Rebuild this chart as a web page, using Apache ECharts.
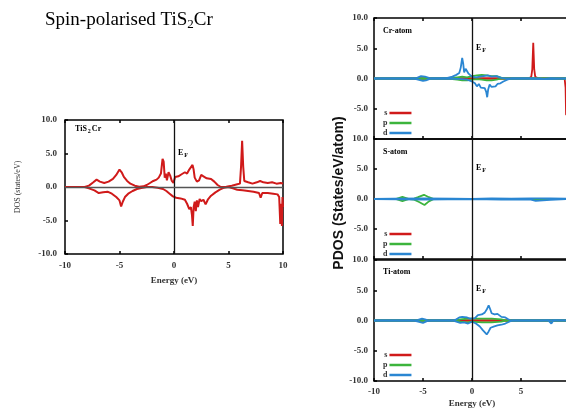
<!DOCTYPE html>
<html><head><meta charset="utf-8">
<script src="https://cdn.jsdelivr.net/npm/echarts@6/dist/echarts.min.js"></script>
<style>html,body{margin:0;padding:0;background:#fff}#c{width:566px;height:413px}</style>
</head><body><div id="c"></div>
<script>
// ---------- DATA ----------
const energyTicks = [-10, -5, 0, 5, 10];
const dosTicks = [-10, -5, 0, 5, 10];
const legendItems = ['s', 'p', 'd'];
const panelNames = ['Cr-atom', 'S-atom', 'Ti-atom'];

// Total DOS of TiS2Cr (spin up / spin down)
const totUp = [[-10,0],[-8.2,0],[-7.8,0.2],[-7.4,0.7],[-7.1,1.1],[-6.8,0.8],[-6.4,0.6],[-6.0,0.8],[-5.6,1.2],[-5.3,1.8],[-5.0,2.6],[-4.8,2.2],[-4.6,1.5],[-4.3,0.9],[-4.0,0.5],[-3.6,0.2],[-3.2,0.05],[-2.8,0.1],[-2.5,0.3],[-2.2,0.6],[-1.9,0.9],[-1.6,1.1],[-1.4,1.4],[-1.2,2.0],[-1.05,4.2],[-0.95,3.8],[-0.85,1.4],[-0.75,2.0],[-0.65,1.0],[-0.5,2.2],[-0.35,1.7],[-0.2,0.9],[-0.05,0.6],[0.1,1.5],[0.4,1.6],[0.7,1.9],[1.0,2.2],[1.2,2.0],[1.4,2.6],[1.55,2.4],[1.7,3.3],[1.8,2.6],[1.9,1.4],[2.1,0.8],[2.3,1.0],[2.5,1.8],[2.7,1.6],[3.0,1.3],[3.4,1.2],[3.7,0.8],[4.0,0.3],[4.3,0.0],[4.8,0.05],[5.3,0.2],[5.8,0.4],[6.05,0.5],[6.15,3.0],[6.25,6.9],[6.35,3.0],[6.45,0.9],[6.8,0.7],[7.2,0.5],[7.6,0.7],[7.9,0.9],[8.2,0.7],[8.6,0.6],[9.0,0.7],[9.4,0.5],[9.8,0.6],[10,0.5]];
const totDn = [[-10,0],[-8.2,0],[-7.8,-0.2],[-7.3,-0.5],[-6.9,-0.9],[-6.5,-0.8],[-6.1,-0.7],[-5.7,-1.0],[-5.3,-1.5],[-5.0,-2.0],[-4.85,-2.9],[-4.7,-2.2],[-4.5,-1.5],[-4.2,-1.0],[-3.8,-0.6],[-3.4,-0.3],[-3.0,-0.15],[-2.5,0],[-2,0],[-1.5,-0.1],[-1.0,-0.3],[-0.7,-0.6],[-0.4,-1.0],[-0.1,-1.4],[0.2,-1.6],[0.6,-1.7],[1.0,-1.9],[1.2,-2.5],[1.4,-3.3],[1.55,-3.0],[1.65,-4.2],[1.72,-5.8],[1.8,-3.0],[1.9,-2.2],[2.0,-3.6],[2.1,-2.0],[2.2,-3.0],[2.35,-1.8],[2.5,-2.1],[2.7,-1.9],[2.9,-2.6],[3.1,-1.9],[3.4,-1.3],[3.8,-0.8],[4.2,-0.4],[4.6,-0.1],[5.0,0],[5.4,-0.2],[5.8,-0.4],[6.3,-0.5],[6.8,-0.6],[7.3,-0.7],[7.8,-0.9],[7.95,-1.6],[8.1,-0.9],[8.6,-0.9],[9.1,-1.0],[9.5,-1.1],[9.65,-1.5],[9.75,-5.5],[9.82,-2.5],[9.9,-5.8],[9.95,-1.5],[10,-3.0]];

// Cr-atom PDOS
const crSUp = [[-10,0],[5.8,0],[6.05,0.3],[6.15,1.5],[6.25,5.9],[6.35,1.5],[6.45,0.3],[6.8,0],[10,0]];
const crSDn = [[-10,0],[9.45,0],[9.55,-1.5],[9.6,-6.0],[10,-6.0]];
const crPUp = [[-10,0],[-2.5,0],[-2,0.1],[-1.5,0.2],[-1.0,0.3],[-0.5,0.2],[0,0.4],[0.5,0.5],[1.0,0.6],[1.5,0.5],[2.0,0.4],[2.5,0.4],[3.0,0.1],[3.5,0],[10,0]];
const crPDn = [[-10,0],[-2.5,0],[-2,-0.1],[-1.5,-0.2],[-1,-0.3],[-0.5,-0.3],[0,-0.2],[0.5,-0.1],[1,-0.2],[1.5,-0.3],[2,-0.3],[2.5,-0.2],[3,0],[10,0]];
const crDUp = [[-10,0],[-6,0],[-5.6,0.1],[-5.2,0.4],[-5.0,0.5],[-4.8,0.3],[-4.4,0.1],[-3.5,0.05],[-2.5,0.1],[-2.0,0.3],[-1.6,0.6],[-1.3,0.9],[-1.15,1.8],[-1.0,3.4],[-0.9,2.5],[-0.8,1.0],[-0.65,1.6],[-0.5,1.4],[-0.35,0.8],[-0.2,0.6],[0,0.3],[0.4,0.2],[0.8,0.3],[1.2,0.4],[1.6,0.5],[2.0,0.3],[2.5,0.4],[3.0,0.1],[3.5,0],[6,0],[7,-0.1],[8,0.05],[10,0]];
const crDDn = [[-10,0],[-6,0],[-5.5,-0.2],[-5.0,-0.4],[-4.7,-0.3],[-4.3,-0.05],[-2,0],[-1.5,-0.05],[-1.0,-0.1],[-0.5,-0.2],[0,-0.5],[0.3,-0.8],[0.5,-1.3],[0.7,-0.9],[0.9,-1.5],[1.1,-1.2],[1.3,-1.6],[1.45,-2.2],[1.55,-3.1],[1.65,-1.8],[1.8,-1.0],[2.0,-1.4],[2.2,-1.1],[2.4,-1.3],[2.6,-0.9],[2.9,-0.8],[3.2,-0.5],[3.6,-0.2],[4.0,0],[7,0],[7.5,-0.1],[10,0]];

// S-atom PDOS
const sSUp = [[-10,0],[10,0]];
const sSDn = [[-10,0],[10,0]];
const sPUp = [[-10,0],[-7.8,0],[-7.4,0.2],[-7.1,0.35],[-6.8,0.2],[-6.4,0],[-5.9,0.05],[-5.5,0.3],[-4.9,0.7],[-4.4,0.3],[-3.9,0],[10,0]];
const sPDn = [[-10,0],[-7.8,0],[-7.4,-0.2],[-7.1,-0.35],[-6.8,-0.2],[-6.4,0],[-5.9,-0.1],[-5.4,-0.5],[-4.85,-1.0],[-4.4,-0.4],[-3.9,0],[10,0]];
const sDUp = [[-10,0],[-8,0.05],[-5,0.1],[-2,0.05],[0,0],[2,0.1],[4,0.05],[6,0.1],[8,0.1],[10,0.05]];
const sDDn = [[-10,0],[-5,-0.1],[0,0],[3,-0.1],[6,-0.1],[6.5,-0.3],[6.7,-0.1],[8,-0.15],[10,0]];

// Ti-atom PDOS
const tiSUp = [[-10,0],[10,0]];
const tiSDn = [[-10,0],[10,0]];
const tiPUp = [[-10,0],[-1.8,0],[-1.2,0.2],[-0.5,0.3],[0,0.3],[1,0.3],[2,0.3],[3,0.2],[3.5,0],[10,0]];
const tiPDn = [[-10,0],[-1.8,0],[-1.2,-0.2],[-0.5,-0.3],[0,-0.2],[1,-0.3],[2,-0.3],[3,-0.2],[3.5,0],[10,0]];
const tiDUp = [[-10,0],[-6,0],[-5.5,0.1],[-5.1,0.3],[-4.8,0.2],[-4.4,0],[-2,0],[-1.6,0.2],[-1.3,0.5],[-1.0,0.6],[-0.8,0.3],[-0.5,0.5],[-0.2,0.3],[0,0.1],[0.3,0.4],[0.6,0.9],[1.0,1.0],[1.3,1.3],[1.5,1.8],[1.7,2.5],[1.85,1.9],[2.0,1.2],[2.3,1.0],[2.6,1.1],[3.0,0.6],[3.4,0.5],[3.7,0.2],[4.0,0],[7,0],[8,0.05],[10,0]];
const tiDDn = [[-10,0],[-6,0],[-5.5,-0.2],[-5.0,-0.4],[-4.6,-0.1],[-4.2,0],[-2,0],[-1.6,-0.2],[-1.2,-0.4],[-0.8,-0.3],[-0.4,-0.5],[0,-0.2],[0.4,-0.5],[0.8,-1.0],[1.1,-1.6],[1.3,-1.4],[1.5,-2.3],[1.7,-1.8],[1.9,-1.2],[2.2,-1.0],[2.6,-0.8],[3.0,-0.7],[3.4,-0.5],[3.8,-0.2],[4.1,0],[7.8,0],[8.1,-0.5],[8.3,0],[10,0]];

// ---------- STYLE / LAYOUT ----------
const RED = '#d01a1a', GREEN = '#3cb43c', BLUE = '#2a86d2';
const SERIF = "'Liberation Serif','Times New Roman',serif";
const tickFont = {fontFamily: SERIF, fontWeight: 'bold', fontSize: 9, color: '#333'};
const grids = [
  {left: 65, top: 120, width: 218, height: 134},
  {left: 374, top: 18, width: 196, height: 121},
  {left: 374, top: 139, width: 196, height: 120},
  {left: 374, top: 260, width: 196, height: 121}
];
const fmtE = v => energyTicks.includes(v) ? String(v) : '';
const fmtY = v => dosTicks.includes(v) ? v.toFixed(1) : '';
const tickStyle = {show: true, inside: true, length: 3, lineStyle: {color: '#000', width: 1.5}};

const xAxes = grids.map((g, i) => ({
  type: 'value', gridIndex: i, min: -10, max: 10, interval: 5,
  axisLine: {show: false, onZero: false},
  axisTick: tickStyle,
  splitLine: {show: false},
  axisLabel: {show: i === 0 || i === 3, formatter: fmtE, margin: i === 0 ? 7 : 6, ...tickFont},
  name: (i === 0 || i === 3) ? 'Energy (eV)' : '',
  nameLocation: 'middle', nameGap: i === 0 ? 22 : 18,
  nameTextStyle: {fontFamily: SERIF, fontWeight: 'bold', fontSize: 9, color: '#333'}
}));
// top tick marks
[0, 1].forEach(i => xAxes.push({
  type: 'value', gridIndex: i, position: 'top', min: -10, max: 10, interval: 5,
  axisLine: {show: false, onZero: false}, splitLine: {show: false}, axisLabel: {show: false},
  axisTick: tickStyle
}));

const yAxes = grids.map((g, i) => ({
  type: 'value', gridIndex: i, min: -10, max: 10, interval: 5,
  axisLine: {show: false, onZero: false},
  axisTick: tickStyle,
  splitLine: {show: false},
  axisLabel: {formatter: fmtY, margin: i === 0 ? 8 : 6, showMinLabel: i === 0 || i === 3, ...tickFont},
  name: i === 0 ? 'DOS (states/eV)' : '',
  nameLocation: 'middle', nameGap: 43, nameRotate: 90,
  nameTextStyle: {fontFamily: SERIF, fontSize: 8, color: '#333'}
}));

function ln(name, data, color, gi, w) {
  return {
    name: name, type: 'line', data: data, xAxisIndex: gi, yAxisIndex: gi,
    showSymbol: false, symbol: 'none', color: color, z: 3,
    lineStyle: {color: color, width: w || 1.8}
  };
}
function refLines(gi, withH) {
  const d = [{xAxis: 0}];
  if (withH) d.push({yAxis: 0, lineStyle: {color: '#555', width: 1.3}});
  return {
    type: 'line', data: [], xAxisIndex: gi, yAxisIndex: gi, z: 1, silent: true,
    markLine: {silent: true, symbol: 'none', label: {show: false}, animation: false,
      lineStyle: {color: '#111', width: 1.3, type: 'solid'}, data: d}
  };
}

const series = [
  refLines(0, true),
  ln('total-up', totUp, RED, 0, 2),
  ln('total-dn', totDn, RED, 0, 2),
  refLines(1), refLines(2), refLines(3),
  ln('s', crSUp, RED, 1), ln('s', crSDn, RED, 1),
  ln('p', crPUp, GREEN, 1), ln('p', crPDn, GREEN, 1),
  ln('d', crDUp, BLUE, 1), ln('d', crDDn, BLUE, 1),
  ln('s', sSUp, RED, 2), ln('s', sSDn, RED, 2),
  ln('p', sPUp, GREEN, 2), ln('p', sPDn, GREEN, 2),
  ln('d', sDUp, BLUE, 2), ln('d', sDDn, BLUE, 2),
  ln('s', tiSUp, RED, 3), ln('s', tiSDn, RED, 3),
  ln('p', tiPUp, GREEN, 3), ln('p', tiPDn, GREEN, 3),
  ln('d', tiDUp, BLUE, 3), ln('d', tiDDn, BLUE, 3)
];

const legendTops = [108, 229, 350];
const legends = legendTops.map(t => ({
  data: legendItems, orient: 'vertical', left: 383, top: t, align: 'right', padding: 0,
  icon: 'rect', itemWidth: 22, itemHeight: 2.5, itemGap: 0, selectedMode: false,
  textStyle: {fontFamily: SERIF, fontWeight: 'bold', fontSize: 8, lineHeight: 10, color: '#333', padding: [0, -3, 0, 0]}
}));

const sub = {
  a: {fontFamily: SERIF, fontWeight: 'bold', fontSize: 8, color: '#333'},
  b: {fontFamily: SERIF, fontWeight: 'bold', fontSize: 6, color: '#333', padding: [4, 1, 0, 1]}
};
function lbl(x, y, text, rich) {
  return {type: 'text', left: x, top: y, style: {text: text, rich: rich || sub}};
}
const graphics = [
  {type: 'text', left: 45, top: 11, style: {
    text: '{t|Spin-polarised TiS}{s|2}{t|Cr}',
    rich: {t: {fontFamily: SERIF, fontSize: 19, color: '#222'},
           s: {fontFamily: SERIF, fontSize: 13, color: '#222', padding: [9, 0, 0, 0]}}}},
  lbl(75, 125, '{a|TiS}{b|2}{a|Cr}'),
  lbl(178, 149, '{a|E}{b|F}'),
  lbl(383, 27, '{a|' + panelNames[0] + '}'),
  lbl(383, 148, '{a|' + panelNames[1] + '}'),
  lbl(383, 268, '{a|' + panelNames[2] + '}'),
  lbl(476, 44, '{a|E}{b|F}'),
  lbl(476, 164, '{a|E}{b|F}'),
  lbl(476, 285, '{a|E}{b|F}'),
  {type: 'text', x: 339, y: 193, rotation: Math.PI / 2, style: {
    text: 'PDOS (States/eV/atom)', fontFamily: "'Liberation Sans',Arial,sans-serif",
    fontWeight: 'bold', fontSize: 14, fill: '#111', align: 'center', verticalAlign: 'middle'}}
];

const chart = echarts.init(document.getElementById('c'), null, {renderer: 'canvas'});
chart.setOption({
  animation: false,
  backgroundColor: '#fff',
  grid: grids.map(g => ({...g, show: true, borderColor: '#000', borderWidth: 1.5, backgroundColor: 'transparent',
    containLabel: false, outerBoundsMode: 'none'})),
  xAxis: xAxes,
  yAxis: yAxes,
  legend: legends,
  series: series,
  graphic: graphics
});
</script></body></html>
